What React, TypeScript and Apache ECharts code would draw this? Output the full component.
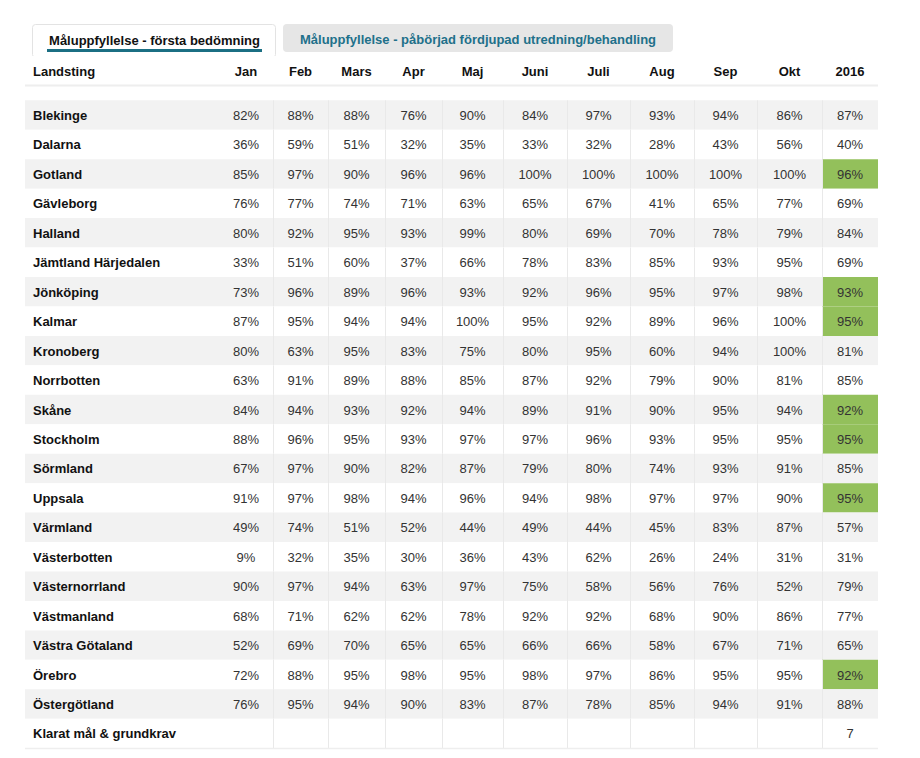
import React, { useEffect, useRef } from "react";
import * as echarts from "echarts";

// ---- Data ----
const COLUMNS = ["Landsting", "Jan", "Feb", "Mars", "Apr", "Maj", "Juni", "Juli", "Aug", "Sep", "Okt", "2016"];
const REGIONS = [
  "Blekinge", "Dalarna", "Gotland", "Gävleborg", "Halland", "Jämtland Härjedalen", "Jönköping",
  "Kalmar", "Kronoberg", "Norrbotten", "Skåne", "Stockholm", "Sörmland", "Uppsala", "Värmland",
  "Västerbotten", "Västernorrland", "Västmanland", "Västra Götaland", "Örebro", "Östergötland",
];
const JAN = [82, 36, 85, 76, 80, 33, 73, 87, 80, 63, 84, 88, 67, 91, 49, 9, 90, 68, 52, 72, 76];
const FEB = [88, 59, 97, 77, 92, 51, 96, 95, 63, 91, 94, 96, 97, 97, 74, 32, 97, 71, 69, 88, 95];
const MARS = [88, 51, 90, 74, 95, 60, 89, 94, 95, 89, 93, 95, 90, 98, 51, 35, 94, 62, 70, 95, 94];
const APR = [76, 32, 96, 71, 93, 37, 96, 94, 83, 88, 92, 93, 82, 94, 52, 30, 63, 62, 65, 98, 90];
const MAJ = [90, 35, 96, 63, 99, 66, 93, 100, 75, 85, 94, 97, 87, 96, 44, 36, 97, 78, 65, 95, 83];
const JUNI = [84, 33, 100, 65, 80, 78, 92, 95, 80, 87, 89, 97, 79, 94, 49, 43, 75, 92, 66, 98, 87];
const JULI = [97, 32, 100, 67, 69, 83, 96, 92, 95, 92, 91, 96, 80, 98, 44, 62, 58, 92, 66, 97, 78];
const AUG = [93, 28, 100, 41, 70, 85, 95, 89, 60, 79, 90, 93, 74, 97, 45, 26, 56, 68, 58, 86, 85];
const SEP = [94, 43, 100, 65, 78, 93, 97, 96, 94, 90, 95, 95, 93, 97, 83, 24, 76, 90, 67, 95, 94];
const OKT = [86, 56, 100, 77, 79, 95, 98, 100, 100, 81, 94, 95, 91, 90, 87, 31, 52, 86, 71, 95, 91];
const YEAR_2016 = [87, 40, 96, 69, 84, 69, 93, 95, 81, 85, 92, 95, 85, 95, 57, 31, 79, 77, 65, 92, 88];
const TARGET = 90;
const SUMMARY_LABEL = "Klarat mål & grundkrav";
const TAB_LABELS = ["Måluppfyllelse - första bedömning", "Måluppfyllelse - påbörjad fördjupad utredning/behandling"];

const MONTH_SERIES = [JAN, FEB, MARS, APR, MAJ, JUNI, JULI, AUG, SEP, OKT, YEAR_2016];

// ---- Layout (not data) ----
const COL_EDGES = [0, 194, 248, 303, 360, 417, 478, 542, 605, 669, 732, 797, 853];
const HEADER_ROW = -1.5;
const FONT = "'Liberation Sans', Arial, Helvetica, sans-serif";
const GREEN = "#93c05b";
const STRIPE = "#f2f2f2";

type Cell = { value: [number, number]; text: string; fill: string; bold: boolean; left: boolean; sep: boolean; header: boolean };

function buildCells(): Cell[] {
  const cells: Cell[] = [];
  COLUMNS.forEach((c, ci) => {
    cells.push({ value: [ci, HEADER_ROW], text: c, fill: "#ffffff", bold: true, left: ci === 0, sep: false, header: true });
  });
  const lastCol = MONTH_SERIES.length - 1;
  REGIONS.forEach((name, ri) => {
    const fill = ri % 2 === 0 ? STRIPE : "#ffffff";
    cells.push({ value: [0, ri], text: name, fill, bold: true, left: true, sep: false, header: false });
    MONTH_SERIES.forEach((arr, mi) => {
      const v = arr[ri];
      const green = mi === lastCol && v >= TARGET;
      cells.push({ value: [mi + 1, ri], text: v + "%", fill: green ? GREEN : fill, bold: false, left: false, sep: mi > 0, header: false });
    });
  });
  const sr = REGIONS.length;
  const count = YEAR_2016.filter((v) => v >= TARGET).length;
  const sFill = sr % 2 === 0 ? STRIPE : "#ffffff";
  cells.push({ value: [0, sr], text: SUMMARY_LABEL, fill: sFill, bold: true, left: true, sep: false, header: false });
  MONTH_SERIES.forEach((_, mi) => {
    cells.push({ value: [mi + 1, sr], text: mi === lastCol ? String(count) : "", fill: sFill, bold: false, left: false, sep: mi > 0, header: false });
  });
  return cells;
}

export default function App() {
  const ref = useRef<HTMLDivElement>(null);
  useEffect(() => {
    if (!ref.current) return;
    const chart = echarts.init(ref.current, null, { renderer: "svg" });
    const cells = buildCells();
    const nRows = REGIONS.length + 1;
    const option: any = {
      animation: false,
      backgroundColor: "#ffffff",
      grid: { left: 25, right: 42, top: 56.1, bottom: 9.8, containLabel: false },
      xAxis: { type: "value", min: 0, max: COL_EDGES[COL_EDGES.length - 1], show: false },
      yAxis: { type: "value", inverse: true, min: HEADER_ROW, max: nRows, show: false },
      graphic: [
        {
          type: "rect",
          shape: { x: 32.5, y: 24.5, width: 243, height: 33, r: [3, 3, 3, 3] },
          style: { fill: "#ffffff", stroke: "#e3e3e3", lineWidth: 1 },
        },
        {
          type: "rect",
          shape: { x: 47, y: 49, width: 215, height: 3 },
          style: { fill: "#1b6f83" },
        },
        {
          type: "text",
          x: 154.5,
          y: 40,
          style: { text: TAB_LABELS[0], fill: "#111111", font: `bold 13px ${FONT}`, align: "center", verticalAlign: "middle" },
        },
        {
          type: "rect",
          shape: { x: 283, y: 24, width: 390, height: 28, r: [4, 4, 4, 4] },
          style: { fill: "#e6e6e6" },
        },
        {
          type: "text",
          x: 478,
          y: 39,
          style: { text: TAB_LABELS[1], fill: "#21708a", font: `bold 13px ${FONT}`, align: "center", verticalAlign: "middle" },
        },
      ],
      series: [
        {
          type: "custom",
          coordinateSystem: "cartesian2d",
          encode: { x: 0, y: 1 },
          clip: false,
          data: cells.map((c) => ({ value: c.value })),
          renderItem: (params: any, api: any) => {
            const cell = cells[params.dataIndex];
            const ci = api.value(0);
            const ri = api.value(1);
            const p0 = api.coord([COL_EDGES[ci], ri]);
            const p1 = api.coord([COL_EDGES[ci + 1], ri + 1]);
            const w = p1[0] - p0[0];
            const h = p1[1] - p0[1];
            const children: any[] = [
              { type: "rect", shape: { x: p0[0], y: p0[1], width: w, height: h }, style: { fill: cell.fill } },
            ];
            if (cell.sep) {
              children.push({
                type: "line",
                shape: { x1: p0[0] + 0.5, y1: p0[1], x2: p0[0] + 0.5, y2: p1[1] },
                style: { stroke: "#e9e9e9", lineWidth: 1 },
              });
            }
            if (cell.header) {
              children.push({
                type: "rect",
                shape: { x: p0[0], y: p1[1] - 1, width: w, height: 2 },
                style: { fill: "#eeeeee" },
              });
            }
            if (ri === nRows - 1) {
              children.push({
                type: "rect",
                shape: { x: p0[0], y: p1[1] - 0.5, width: w, height: 1.5 },
                style: { fill: "#eeeeee" },
              });
            }
            if (cell.text) {
              children.push({
                type: "text",
                x: cell.left ? p0[0] + 8 : p0[0] + w / 2,
                y: (p0[1] + p1[1]) / 2 + 0.5,
                style: {
                  text: cell.text,
                  fill: cell.bold ? "#111111" : "#333333",
                  font: `${cell.bold ? "bold " : ""}13px ${FONT}`,
                  align: cell.left ? "left" : "center",
                  verticalAlign: "middle",
                },
              });
            }
            return { type: "group", children };
          },
        },
      ],
    };
    chart.setOption(option);
    return () => chart.dispose();
  }, []);
  return <div ref={ref} style={{ position: "fixed", left: 0, top: 0, width: 920, height: 758 }} />;
}
